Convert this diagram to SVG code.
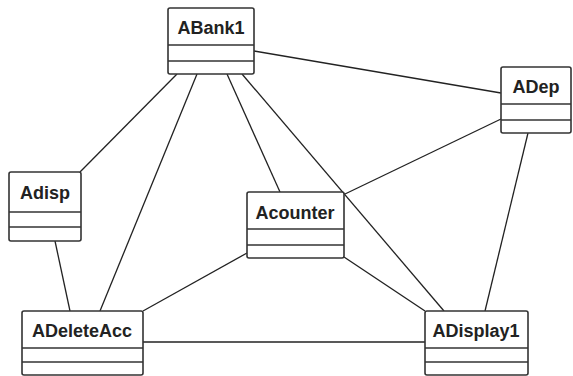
<svg xmlns="http://www.w3.org/2000/svg" width="573" height="376" viewBox="0 0 573 376">
<style>
.box{fill:#fff;stroke:#333;stroke-width:1.6}
.div{stroke:#333;stroke-width:1.6}
.lbl{font-family:"Liberation Sans",Arial,sans-serif;font-weight:bold;font-size:18px;fill:#222;text-anchor:middle}
.edge{stroke:#222;stroke-width:1.3;fill:none}
</style>
<rect width="573" height="376" fill="#fff"/>
<g id="connectors">
<line class="edge" x1="254" y1="51" x2="501" y2="93"/>
<line class="edge" x1="177" y1="74" x2="80" y2="172"/>
<line class="edge" x1="197" y1="74" x2="100" y2="311"/>
<line class="edge" x1="227" y1="74" x2="280" y2="192"/>
<line class="edge" x1="242" y1="74" x2="444" y2="311"/>
<line class="edge" x1="501" y1="119" x2="345" y2="194"/>
<line class="edge" x1="528" y1="133" x2="485" y2="311"/>
<line class="edge" x1="247" y1="253" x2="143" y2="311"/>
<line class="edge" x1="344" y1="257" x2="425" y2="311"/>
<line class="edge" x1="143" y1="342" x2="425" y2="342"/>
<line class="edge" x1="55" y1="241" x2="70" y2="311"/>
</g>
<g id="ABank1">
<rect class="box" x="168" y="8" width="86" height="66" rx="2"/>
<line class="div" x1="168" y1="45" x2="254" y2="45"/>
<line class="div" x1="168" y1="61" x2="254" y2="61"/>
<text class="lbl" x="211" y="34">ABank1</text>
</g>
<g id="ADep">
<rect class="box" x="501" y="67" width="70" height="66" rx="2"/>
<line class="div" x1="501" y1="104" x2="571" y2="104"/>
<line class="div" x1="501" y1="120" x2="571" y2="120"/>
<text class="lbl" x="536" y="93">ADep</text>
</g>
<g id="Adisp">
<rect class="box" x="9" y="172" width="72" height="69" rx="2"/>
<line class="div" x1="9" y1="212" x2="81" y2="212"/>
<line class="div" x1="9" y1="227" x2="81" y2="227"/>
<text class="lbl" x="45" y="199">Adisp</text>
</g>
<g id="Acounter">
<rect class="box" x="247" y="192" width="97" height="66" rx="2"/>
<line class="div" x1="247" y1="229" x2="344" y2="229"/>
<line class="div" x1="247" y1="245" x2="344" y2="245"/>
<text class="lbl" x="295" y="219">Acounter</text>
</g>
<g id="ADeleteAcc">
<rect class="box" x="22" y="311" width="121" height="64" rx="2"/>
<line class="div" x1="22" y1="348" x2="143" y2="348"/>
<line class="div" x1="22" y1="362" x2="143" y2="362"/>
<text class="lbl" x="82" y="337">ADeleteAcc</text>
</g>
<g id="ADisplay1">
<rect class="box" x="425" y="311" width="103" height="64" rx="2"/>
<line class="div" x1="425" y1="348" x2="528" y2="348"/>
<line class="div" x1="425" y1="362" x2="528" y2="362"/>
<text class="lbl" x="476" y="337">ADisplay1</text>
</g>
</svg>
